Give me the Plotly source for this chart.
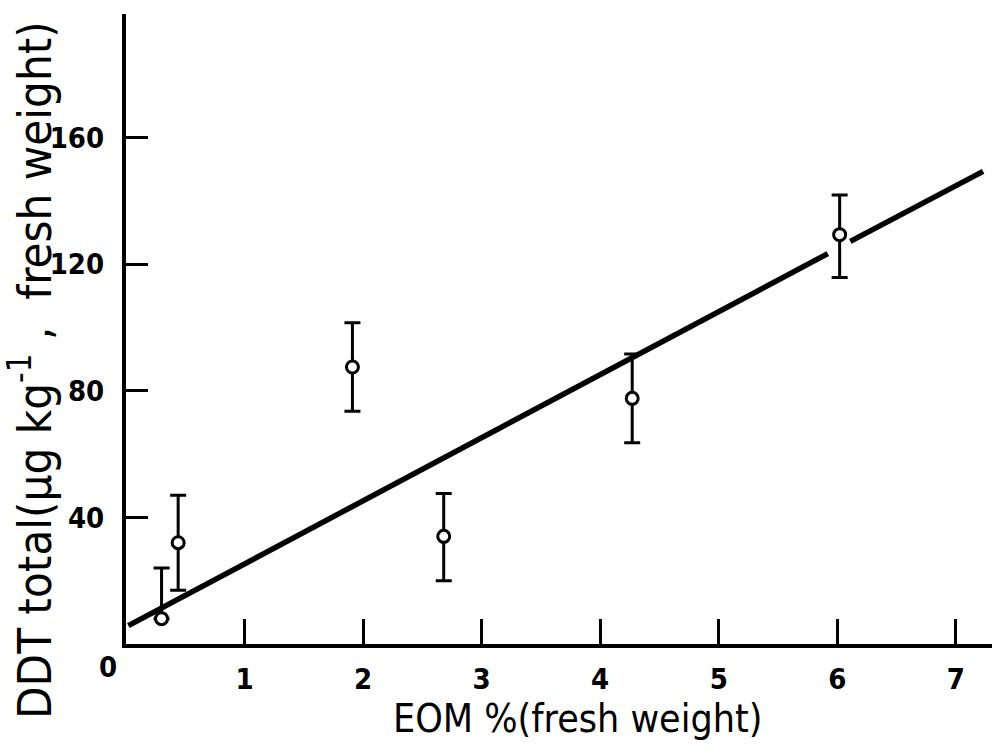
import plotly.graph_objects as go

# Data
eom = [0.30, 0.44, 1.91, 2.68, 4.27, 6.02]
ddt = [8, 32, 87.5, 34, 77.6, 129.3]
err_plus = [16, 15, 14, 13.5, 14, 12.5]
err_minus = [0, 15, 14, 14, 14, 13.5]

# regression line (drawn with a break around the last point)
fit_x = [0.02, 5.92, None, 6.11, 7.23]
fit_y = [5.8, 123.3, None, 127.2, 149.3]

x_ticks = [1, 2, 3, 4, 5, 6, 7]
y_ticks = [40, 80, 120, 160]

FONT = "DejaVu Sans Condensed, Liberation Sans Narrow, DejaVu Sans"

ML, MT, MB = 126, 14, 101
W, H = 992, 745
pw, ph = W - ML, H - MT - MB

fig = go.Figure()
fig.add_trace(go.Scatter(
    x=fit_x, y=fit_y, mode="lines",
    line=dict(color="black", width=5.5), showlegend=False, hoverinfo="skip",
    cliponaxis=False,
))
fig.add_trace(go.Scatter(
    x=eom, y=ddt, mode="markers",
    marker=dict(symbol="circle", size=12, color="white",
                line=dict(color="black", width=3)),
    error_y=dict(type="data", symmetric=False, array=err_plus,
                 arrayminus=err_minus, color="black", thickness=3, width=8),
    showlegend=False,
))

fig.add_annotation(x=0, y=0, xref="x", yref="y", text="<b>0</b>",
                   showarrow=False, xshift=-18, yshift=-23,
                   font=dict(family=FONT, size=29, color="black"))

# axis titles placed as annotations to match the reference position
fig.add_annotation(x=(577 - ML) / pw, y=(H - 718 - MB) / ph,
                   xref="paper", yref="paper", xanchor="center", yanchor="middle",
                   text="EOM %(fresh weight)", showarrow=False,
                   font=dict(family=FONT, size=39, color="black"))
fig.add_annotation(x=(31 - ML) / pw, y=(H - 370 - MB) / ph,
                   xref="paper", yref="paper", xanchor="center", yanchor="middle",
                   text="DDT total(µg kg<sup>-1</sup> ,  fresh weight)", showarrow=False,
                   textangle=-90,
                   font=dict(family=FONT, size=47, color="black"))

fig.update_xaxes(
    range=[0, 7.305], tickvals=x_ticks, ticktext=[f"<b>{v}</b>" for v in x_ticks],
    ticks="inside", ticklen=25, tickwidth=3, tickcolor="black",
    showline=True, linewidth=4, linecolor="black",
    showgrid=False, zeroline=False,
    tickfont=dict(family=FONT, size=29, color="black"),
    ticklabelstandoff=6,
)
fig.update_yaxes(
    range=[0, 199], tickvals=y_ticks, ticktext=[f"<b>{v}</b>" for v in y_ticks],
    ticks="inside", ticklen=22, tickwidth=3, tickcolor="black",
    showline=True, linewidth=4, linecolor="black",
    showgrid=False, zeroline=False,
    tickfont=dict(family=FONT, size=29, color="black"),
    ticklabelstandoff=12,
)
fig.update_layout(
    width=W, height=H,
    margin=dict(l=ML, r=0, t=MT, b=MB),
    paper_bgcolor="white", plot_bgcolor="white",
)
fig.write_html("out.html")
